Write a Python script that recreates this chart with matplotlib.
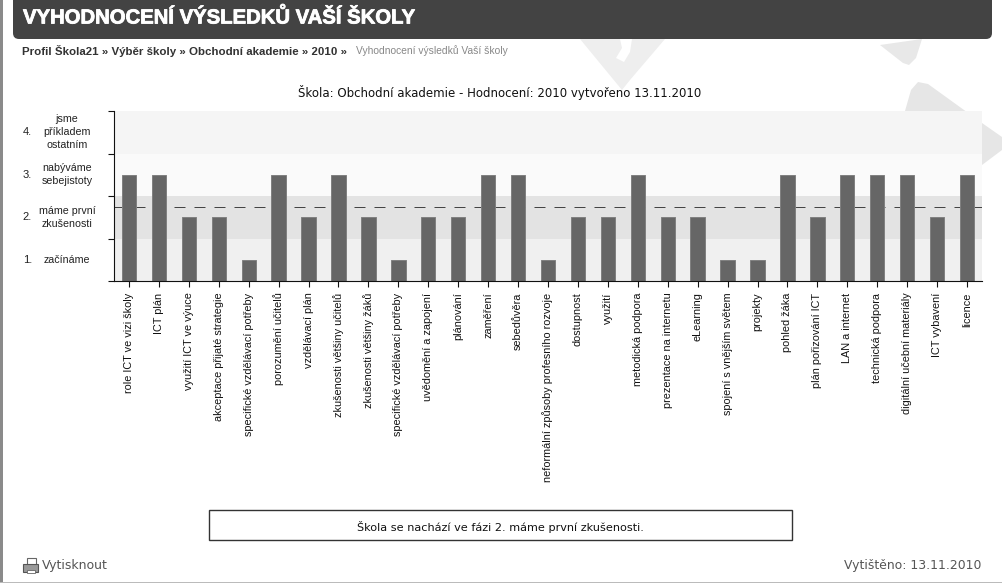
import matplotlib
matplotlib.use('Agg')
import matplotlib.pyplot as plt
import matplotlib.patheffects as pe
from matplotlib.patches import Polygon, Rectangle, FancyBboxPatch

W, H = 1002, 583

categories = ['role ICT ve vizi školy', 'ICT plán', 'využití ICT ve výuce', 'akceptace přijaté strategie',
              'specifické vzdělávací potřeby', 'porozumění učitelů', 'vzdělávací plán', 'zkušenosti většiny učitelů',
              'zkušenosti většiny žáků', 'specifické vzdělávací potřeby', 'uvědomění a zapojení', 'plánování',
              'zaměření', 'sebedůvěra', 'neformální způsoby profesního rozvoje', 'dostupnost', 'využití',
              'metodická podpora', 'prezentace na internetu', 'eLearning', 'spojení s vnějším světem', 'projekty',
              'pohled žáka', 'plán pořizování ICT', 'LAN a internet', 'technická podpora',
              'digitální učební materiály', 'ICT vybavení', 'licence']
levels = [3, 3, 2, 2, 1, 3, 2, 3, 2, 1, 2, 2, 3, 3, 1, 2, 2, 3, 2, 2, 1, 1, 3, 2, 3, 3, 3, 2, 3]
average = 1.75
level_names = ['začínáme', 'máme první\nzkušenosti', 'nabýváme\nsebejistoty', 'jsme\npříkladem\nostatním']
band_colors = ['#f0f0f0', '#e3e3e3', '#fafafa', '#f5f5f5']

fig = plt.figure(figsize=(W / 100, H / 100), dpi=100, facecolor='white')

# page furniture, in pixel coordinates
page = fig.add_axes([0, 0, 1, 1])
page.set_xlim(0, W)
page.set_ylim(H, 0)
page.axis('off')

# watermark behind everything
page.add_patch(Polygon([(580, 39), (665, 39), (630, 80), (622, 90)], closed=True, fc='#eeeeee', ec='none'))
page.add_patch(Polygon([(620, 39), (632, 39), (630, 52), (624, 62), (616, 58), (622, 48)], closed=True,
                       fc='white', ec='none'))
page.add_patch(Polygon([(880, 45), (922, 39), (916, 58), (909, 65), (903, 63)], closed=True,
                       fc='#e8e8e8', ec='none'))
page.add_patch(Polygon([(905, 111), (911, 90), (918, 82), (928, 84), (982, 123), (1002, 137), (1002, 150),
                        (982, 165)], closed=True, fc='#e6e6e6', ec='none'))

page.add_patch(Rectangle((0, 0), 3, H, fc='#8a8a8a', ec='none'))
page.add_patch(Rectangle((0, 581.5), W, 1.5, fc='#bbbbbb', ec='none'))
page.add_patch(FancyBboxPatch((13, -20), 979, 59, boxstyle='round,pad=0,rounding_size=6',
                              fc='#434343', ec='none'))

title = page.text(23, 17.5, 'VYHODNOCENÍ VÝSLEDKŮ VAŠÍ ŠKOLY', color='white', fontsize=14.6, fontweight='bold',
                  family='Liberation Sans', va='center', ha='left')
title.set_path_effects([pe.withStroke(linewidth=0.6, foreground='white')])
page.text(22, 51, 'Profil Škola21 » Výběr školy » Obchodní akademie » 2010 »', color='#333333', fontsize=8.25,
          fontweight='bold', family='Liberation Sans', va='center', ha='left')
page.text(356, 51, 'Vyhodnocení výsledků Vaší školy', color='#888888', fontsize=7.4, family='Liberation Sans',
          va='center', ha='left')
page.text(500, 93, 'Škola: Obchodní akademie - Hodnocení: 2010 vytvořeno 13.11.2010', color='#111111',
          fontsize=8.5, family='DejaVu Sans', va='center', ha='center')

# level names left of the axis
for i, name in enumerate(level_names):
    yc = 281 - (i + 0.5) * 42.5
    page.text(32, yc, f'{i + 1}.', fontsize=8, family='Liberation Sans', color='#222222', va='center', ha='right')
    page.text(67, yc, name, fontsize=7.7, family='Liberation Sans', color='#222222', va='center', ha='center',
              linespacing=1.4)

# result box
page.add_patch(Rectangle((209.5, 509.5), 583, 30, fc='white', ec='#333333', lw=1))
page.text(500, 527, 'Škola se nachází ve fázi 2. máme první zkušenosti.', fontsize=8.15, family='DejaVu Sans',
          color='#111111', va='center', ha='center')

# print icon
page.add_patch(Rectangle((27, 558), 9, 8, fc='white', ec='#666666', lw=0.8))
page.add_patch(Rectangle((23.5, 564), 14.5, 8, fc='#999999', ec='#555555', lw=0.8))
page.add_patch(Rectangle((27, 570), 8, 3, fc='white', ec='#666666', lw=0.6))
page.text(42, 566, 'Vytisknout', fontsize=9, family='DejaVu Sans', color='#555555', va='center', ha='left')
page.text(981, 566, 'Vytištěno: 13.11.2010', fontsize=8.9, family='DejaVu Sans', color='#555555',
          va='center', ha='right')

# chart
ax = fig.add_axes([114 / W, 1 - 281 / H, 868 / W, 170 / H])
ax.patch.set_alpha(0)
x = range(len(categories))
heights = [v - 0.5 for v in levels]

for i, c in enumerate(band_colors):
    ax.axhspan(i, i + 1, fc=c, ec='none', zorder=1)
ax.axhline(average, color='#444444', lw=0.72, dashes=(11, 9), zorder=2)
ax.bar(x, heights, width=0.48, color='#666666', edgecolor='#808080', linewidth=0.7, zorder=3)

ax.set_xlim(-0.5, len(categories) - 0.5)
ax.set_ylim(0, 4)
ax.set_yticks(range(5))
ax.set_yticklabels([])
ax.set_xticks(list(x))
ax.set_xticklabels(categories, rotation=90, fontsize=7.8, family='Liberation Sans', color='#111111')
ax.tick_params(axis='both', length=4.3, width=0.8, color='#111111', pad=4)
for s in ('top', 'right'):
    ax.spines[s].set_visible(False)
for s in ('left', 'bottom'):
    ax.spines[s].set_linewidth(0.8)
    ax.spines[s].set_color('#111111')
    ax.spines[s].set_zorder(4)

plt.savefig('out.png', dpi=100)
